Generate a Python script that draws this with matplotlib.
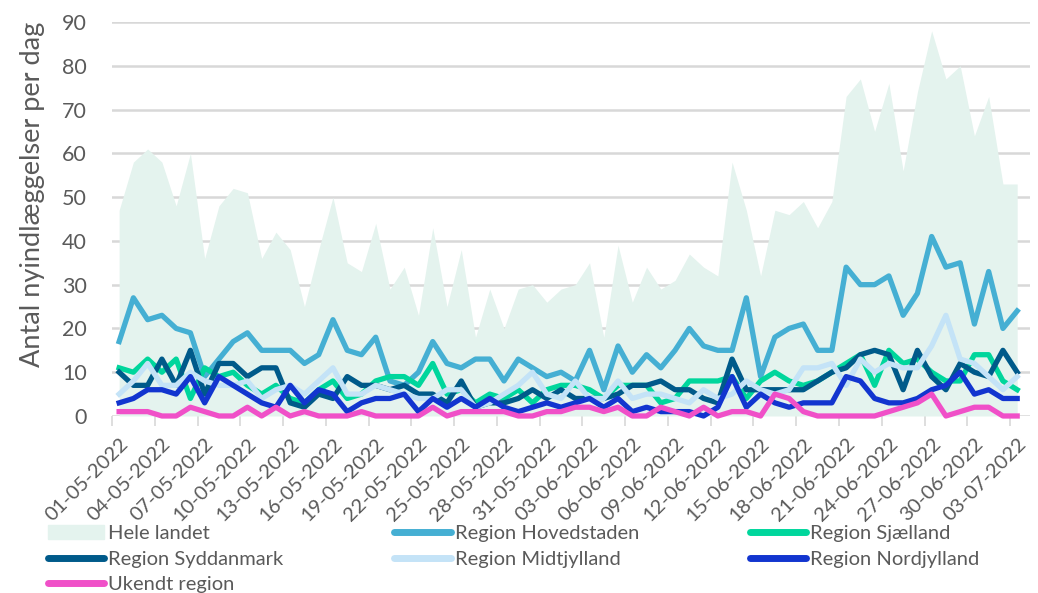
import numpy as np
import pandas as pd
import matplotlib
matplotlib.use('Agg')
import matplotlib.pyplot as plt
from matplotlib.patches import Patch
from matplotlib.lines import Line2D

dates = pd.date_range('2022-05-01', '2022-07-03', freq='D')
labels = dates.strftime('%d-%m-%Y')

hele_landet = [47, 58, 61, 58, 48, 60, 36, 48, 52, 51,
               36, 42, 38, 25, 38, 50, 35, 33, 44, 29,
               34, 23, 43, 25, 38, 18, 29, 20, 29, 30,
               26, 29, 30, 35, 18, 39, 26, 34, 29, 31,
               37, 34, 32, 58, 47, 32, 47, 46, 49, 43,
               49, 73, 77, 65, 76, 56, 74, 88, 77, 80,
               64, 73, 53, 53]
hovedstaden = [17, 27, 22, 23, 20, 19, 9, 13, 17, 19,
               15, 15, 15, 12, 14, 22, 15, 14, 18, 8,
               7, 10, 17, 12, 11, 13, 13, 8, 13, 11,
               9, 10, 8, 15, 6, 16, 10, 14, 11, 15,
               20, 16, 15, 15, 27, 9, 18, 20, 21, 15,
               15, 34, 30, 30, 32, 23, 28, 41, 34, 35,
               21, 33, 20, 24]
sjaelland = [11, 10, 13, 10, 13, 4, 11, 9, 10, 7,
             5, 7, 4, 3, 6, 8, 4, 5, 8, 9,
             9, 7, 12, 5, 6, 3, 5, 4, 6, 3,
             6, 7, 7, 6, 4, 7, 7, 7, 3, 4,
             8, 8, 8, 9, 4, 8, 10, 8, 7, 8,
             10, 12, 14, 7, 15, 12, 13, 10, 8, 8,
             14, 14, 8, 6]
syddanmark = [10, 7, 7, 13, 7, 15, 5, 12, 12, 9,
              11, 11, 3, 2, 5, 4, 9, 7, 7, 6,
              7, 5, 5, 3, 8, 2, 3, 3, 4, 6,
              4, 6, 4, 4, 4, 5, 7, 7, 8, 6,
              6, 4, 3, 13, 6, 6, 6, 6, 6, 8,
              10, 11, 14, 15, 14, 6, 15, 9, 6, 12,
              10, 9, 15, 10]
midtjylland = [5, 8, 12, 7, 7, 10, 8, 7, 7, 8,
               4, 6, 7, 5, 8, 11, 5, 5, 7, 6,
               5, 4, 4, 6, 6, 2, 3, 5, 7, 10,
               5, 4, 8, 4, 4, 8, 4, 5, 5, 4,
               3, 6, 4, 5, 8, 6, 5, 6, 11, 11,
               12, 7, 13, 10, 12, 11, 11, 16, 23, 13,
               12, 9, 6, 9]
nordjylland = [3, 4, 6, 6, 5, 9, 3, 9, 7, 5,
               3, 2, 7, 3, 6, 5, 1, 3, 4, 4,
               5, 1, 4, 2, 4, 2, 4, 2, 1, 2,
               3, 2, 3, 4, 2, 4, 1, 2, 1, 1,
               1, 0, 2, 9, 2, 5, 3, 2, 3, 3,
               3, 9, 8, 4, 3, 3, 4, 6, 7, 10,
               5, 6, 4, 4]
ukendt = [1, 1, 1, 0, 0, 2, 1, 0, 0, 2,
          0, 2, 0, 1, 0, 0, 0, 1, 0, 0,
          0, 0, 2, 0, 1, 1, 1, 1, 0, 0,
          1, 1, 2, 2, 1, 2, 0, 0, 2, 1,
          0, 2, 0, 1, 1, 0, 5, 4, 1, 0,
          0, 0, 0, 0, 1, 2, 3, 5, 0, 1,
          2, 2, 0, 0]

series = [
    ('Region Hovedstaden', hovedstaden, '#45afd3'),
    ('Region Sjælland', sjaelland, '#00d69c'),
    ('Region Syddanmark', syddanmark, '#005a8a'),
    ('Region Midtjylland', midtjylland, '#c4e3f7'),
    ('Region Nordjylland', nordjylland, '#1235cf'),
    ('Ukendt region', ukendt, '#f050c8'),
]

plt.rcParams['font.family'] = ['Lato', 'DejaVu Sans']
txt = '#5a5a5a'

fig = plt.figure(figsize=(10.38, 5.93), dpi=100)
ax = fig.add_axes([0.1079, 0.2985, 0.8844, 0.6644])

x = np.arange(len(dates))
ax.fill_between(x, 0, hele_landet, color='#e4f3ee', lw=0, zorder=1)

handles = {}
handles['Hele landet'] = Patch(color='#e4f3ee')
for name, vals, col in series:
    ax.plot(x, vals, color=col, lw=3.8, zorder=3, clip_on=False)
    handles[name] = Line2D([], [], color=col, lw=5, solid_capstyle='round')

ax.set_ylim(0, 90)
ax.set_xlim(-0.5, 63.9)
ax.set_yticks(range(0, 91, 10))
ax.yaxis.grid(True, color='#d8d8d8', lw=1.8, zorder=0)
ax.set_axisbelow(True)
for s in ax.spines.values():
    s.set_visible(False)

ax.set_xticks(x[::3])
ax.set_xticklabels(labels[::3], rotation=45, ha='right', rotation_mode='anchor',
                   fontsize=14.5, color=txt)
ax.set_xticks(x[::3] - 0.5, minor=True)
ax.tick_params(axis='x', which='major', length=0, pad=14)
ax.tick_params(axis='x', which='minor', length=7, width=1.2, color='#d8d8d8')
ax.tick_params(axis='y', length=0, pad=18, labelsize=15.5, labelcolor=txt)
ax.set_ylabel('Antal nyindlæggelser per dag', fontsize=19.5, color=txt)
ax.yaxis.set_label_coords(-0.073, 0.563)

order = ['Hele landet', 'Region Syddanmark', 'Ukendt region',
         'Region Hovedstaden', 'Region Midtjylland',
         'Region Sjælland', 'Region Nordjylland']
leg = fig.legend([handles[k] for k in order], order, ncol=3,
                 loc='upper left', bbox_to_anchor=(0.0385, 0.128),
                 frameon=False, fontsize=14.5, handlelength=2.8,
                 handletextpad=0.2, columnspacing=5.5, labelspacing=0.42,
                 borderaxespad=0)
for t in leg.get_texts():
    t.set_color(txt)

fig.savefig('out.png', dpi=100)
